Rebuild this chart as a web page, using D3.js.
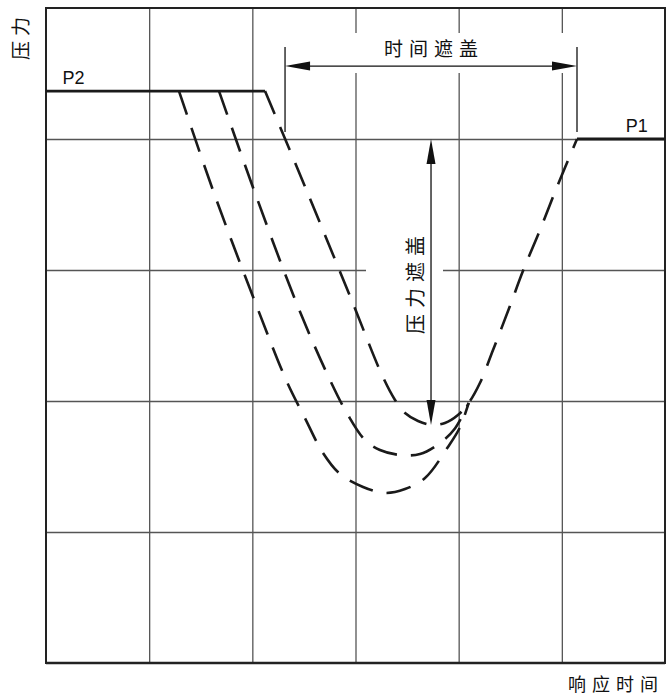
<!DOCTYPE html>
<html><head><meta charset="utf-8">
<script src="https://cdn.jsdelivr.net/npm/d3@7"></script>
<style>body{margin:0;background:#fff}svg{display:block}</style>
</head><body>
<script>
// grid in data units: x 0..6 (time), y 0..5 (pressure)
const xGridTicks = [1, 2, 3, 4, 5];
const yGridTicks = [1, 2, 3, 4];
const p2Line = [[0, 4.366], [2.123, 4.366]];
const p1Line = [[5.147, 4.0], [6, 4.0]];
const curveA = [[1.289,4.366],[1.628,3.588],[2.045,2.718],[2.336,2.145],[2.510,1.870],[2.685,1.603],[2.850,1.443],[3.073,1.344],[3.286,1.298],[3.480,1.328],[3.674,1.412],[3.896,1.649],[4.013,1.800],[4.097,1.985]];
const curveB = [[1.677,4.366],[2.026,3.588],[2.443,2.718],[2.753,2.160],[2.927,1.893],[3.092,1.702],[3.237,1.626],[3.431,1.588],[3.625,1.595],[3.819,1.679],[3.964,1.790],[4.097,1.985]];
const curveC = [[2.123,4.366],[2.520,3.618],[2.966,2.763],[3.257,2.198],[3.383,2.008],[3.480,1.908],[3.606,1.847],[3.741,1.817],[3.867,1.832],[3.993,1.893],[4.097,1.985],[4.206,2.137],[4.333,2.389],[4.497,2.725],[4.623,2.992],[4.788,3.305],[4.953,3.634],[5.147,4.0]];
const levelLabels = [{t:"P2", x:0.16, y:4.366}, {t:"P1", x:5.62, y:4.0}];
const timeCover = {label:"时间遮盖", x0:2.317, x1:5.147, y:4.557, ext0:4.053, ext1:4.702};
const pressureCover = {label:"压力遮盖", x:3.732, y0:4.0, y1:1.817};
const axisTitles = {y:"压力", x:"响应时间"};

const W = 667, H = 697;
const svg = d3.select("body").append("svg").attr("width", W).attr("height", H);
const x = d3.scaleLinear().domain([0, 6]).range([46, 665]);
const y = d3.scaleLinear().domain([0, 5]).range([663, 8]);

// grid
const gx = svg.append("g").attr("transform", `translate(0,${y(0)})`)
  .call(d3.axisBottom(x).tickValues(xGridTicks).tickSize(-(y(0) - y(5))).tickFormat(""));
const gy = svg.append("g").attr("transform", `translate(${x(0)},0)`)
  .call(d3.axisLeft(y).tickValues(yGridTicks).tickSize(-(x(6) - x(0))).tickFormat(""));
[gx, gy].forEach(g => {
  g.select(".domain").remove();
  g.selectAll(".tick line").attr("stroke", "#555").attr("stroke-width", 1.3);
});

// white gaps behind annotations
svg.append("rect").attr("x", x(timeCover.x0)).attr("y", 33)
  .attr("width", x(timeCover.x1) - x(timeCover.x0)).attr("height", 40).attr("fill", "#fff");
svg.append("rect").attr("x", 366).attr("y", 228).attr("width", 77).attr("height", 108).attr("fill", "#fff");

// frame
svg.append("rect").attr("x", x(0)).attr("y", y(5)).attr("width", x(6) - x(0)).attr("height", y(0) - y(5))
  .attr("fill", "none").attr("stroke", "#222").attr("stroke-width", 2);
svg.append("line").attr("x1", x(0)).attr("x2", x(6)).attr("y1", y(0)).attr("y2", y(0))
  .attr("stroke", "#222").attr("stroke-width", 2.5);

const line = d3.line().x(d => x(d[0])).y(d => y(d[1]));
const curved = d3.line().x(d => x(d[0])).y(d => y(d[1])).curve(d3.curveCatmullRom.alpha(0.5));

// solid levels
[p2Line, p1Line].forEach(l => svg.append("path").attr("d", line(l)).attr("fill", "none")
  .attr("stroke", "#1a1a1a").attr("stroke-width", 2.8));

// dashed curves
[curveA, curveB, curveC].forEach(c => svg.append("path").attr("d", curved(c)).attr("fill", "none")
  .attr("stroke", "#1a1a1a").attr("stroke-width", 2.6).attr("stroke-dasharray", "25,14"));

// level labels
svg.selectAll("text.lvl").data(levelLabels).join("text").attr("class", "lvl")
  .attr("x", d => x(d.x)).attr("y", d => y(d.y) - 7)
  .attr("font-family", "Liberation Sans, Arial, sans-serif").attr("font-size", 18).attr("fill", "#111")
  .text(d => d.t);

const ink = "#111";
// time cover dimension
[timeCover.x0, timeCover.x1].forEach(v => svg.append("line")
  .attr("x1", x(v)).attr("x2", x(v)).attr("y1", y(timeCover.ext0)).attr("y2", y(timeCover.ext1))
  .attr("stroke", ink).attr("stroke-width", 1.3));
const ty = y(timeCover.y);
svg.append("line").attr("x1", x(timeCover.x0) + 20).attr("x2", x(timeCover.x1) - 20)
  .attr("y1", ty).attr("y2", ty).attr("stroke", ink).attr("stroke-width", 1.3);
const ax0 = x(timeCover.x0), ax1 = x(timeCover.x1);
svg.append("path").attr("d", `M${ax0},${ty}L${ax0 + 25},${ty - 4.5}L${ax0 + 25},${ty + 4.5}Z`).attr("fill", ink);
svg.append("path").attr("d", `M${ax1},${ty}L${ax1 - 25},${ty - 4.5}L${ax1 - 25},${ty + 4.5}Z`).attr("fill", ink);
svg.append("text").attr("x", (ax0 + ax1) / 2 + 3).attr("y", 56).attr("text-anchor", "middle")
  .attr("font-family", "Noto Sans CJK SC").attr("font-size", 19).attr("letter-spacing", 6).attr("fill", ink)
  .text(timeCover.label);

// pressure cover dimension
const px = x(pressureCover.x), py0 = y(pressureCover.y0), py1 = y(pressureCover.y1);
svg.append("line").attr("x1", px).attr("x2", px).attr("y1", py0 + 20).attr("y2", py1 - 20)
  .attr("stroke", ink).attr("stroke-width", 1.3);
svg.append("path").attr("d", `M${px},${py0}L${px - 4.5},${py0 + 25}L${px + 4.5},${py0 + 25}Z`).attr("fill", ink);
svg.append("path").attr("d", `M${px},${py1}L${px - 4.5},${py1 - 25}L${px + 4.5},${py1 - 25}Z`).attr("fill", ink);
svg.append("text").attr("transform", `translate(423,282) rotate(-90)`).attr("text-anchor", "middle")
  .attr("font-family", "Noto Sans CJK SC").attr("font-size", 20).attr("letter-spacing", 6).attr("fill", ink)
  .text(pressureCover.label);

// axis titles
svg.append("text").attr("transform", `translate(28,36) rotate(-90)`).attr("text-anchor", "middle")
  .attr("font-family", "Noto Sans CJK SC").attr("font-size", 19).attr("letter-spacing", 5).attr("fill", ink)
  .text(axisTitles.y);
svg.append("text").attr("x", 664).attr("y", 691).attr("text-anchor", "end")
  .attr("font-family", "Noto Sans CJK SC").attr("font-size", 18).attr("letter-spacing", 6).attr("fill", ink)
  .text(axisTitles.x);
</script>
</body></html>
